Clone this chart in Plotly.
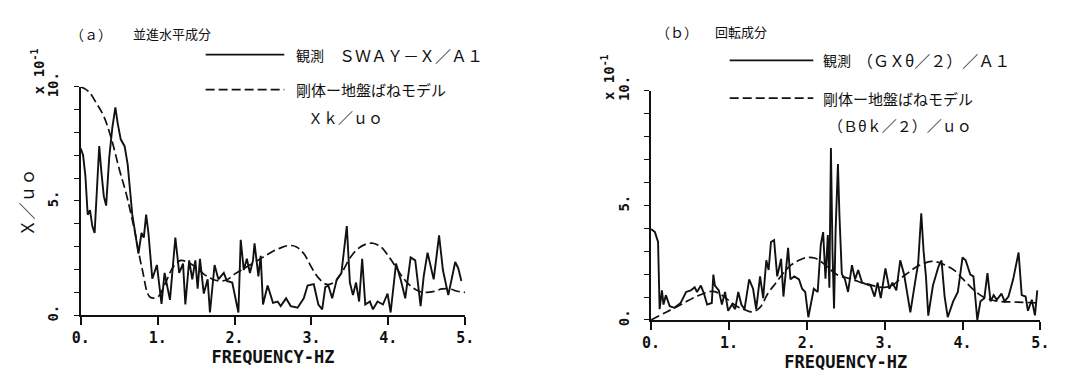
import plotly.graph_objects as go

W, H = 1073, 376

# (a) translational horizontal component: observed spectrum
freq_obs_a = [0.00, 0.03, 0.06, 0.09, 0.12, 0.15, 0.18, 0.21, 0.24, 0.27, 0.30, 0.33, 0.37,
              0.41, 0.45, 0.48, 0.52, 0.57, 0.61, 0.67, 0.71, 0.75, 0.79, 0.82, 0.85, 0.88,
              0.93, 0.99, 1.05, 1.09, 1.16, 1.23, 1.28, 1.33, 1.36, 1.41, 1.45, 1.49, 1.52,
              1.55, 1.60, 1.65, 1.68, 1.74, 1.79, 1.86, 1.90, 1.97, 2.05, 2.08, 2.12, 2.16,
              2.20, 2.24, 2.26, 2.31, 2.34, 2.37, 2.43, 2.50, 2.56, 2.60, 2.67, 2.73, 2.82,
              2.90, 2.95, 3.03, 3.09, 3.14, 3.18, 3.22, 3.27, 3.33, 3.39, 3.46, 3.50, 3.54,
              3.58, 3.62, 3.66, 3.70, 3.76, 3.80, 3.86, 3.93, 3.99, 4.03, 4.10, 4.16, 4.22,
              4.29, 4.35, 4.42, 4.46, 4.51, 4.59, 4.66, 4.71, 4.78, 4.87, 4.91, 4.95]
amp_obs_a = [7.3, 7.0, 6.1, 4.4, 4.6, 3.9, 3.6, 5.3, 7.4, 6.2, 5.2, 4.8, 6.9,
             8.2, 9.1, 8.4, 7.7, 7.4, 6.6, 4.4, 3.6, 2.7, 3.6, 3.4, 4.4, 3.6,
             1.6, 2.2, 0.5, 1.85, 0.67, 3.4, 1.85, 2.26, 0.47, 2.4, 1.57, 2.4, 1.16,
             2.47, 0.95, 1.57, 0.12, 2.2, 1.57, 1.85, 1.5, 1.43, 0.12, 3.3, 1.98, 2.47,
             1.85, 2.4, 3.15, 1.7, 2.6, 0.47, 1.3, 0.54, 0.6, 0.4, 0.74, 0.4, 0.33,
             0.74, 1.3, 1.36, 0.47, 0.26, 1.23, 1.3, 0.74, 1.57, 1.85, 3.9, 1.43, 0.88,
             1.43, 0.6, 2.47, 0.47, 0.6, 0.26, 0.6, 0.47, 0.95, 0.12, 2.26, 1.57, 0.74,
             2.53, 2.4, 0.4, 1.7, 2.74, 1.57, 3.5, 1.98, 0.88, 2.33, 2.05, 1.5]

# (a) rigid body - ground spring model
freq_mod_a = [0.0, 0.1, 0.2, 0.3, 0.4, 0.5, 0.6, 0.7, 0.8, 0.9, 1.0, 1.1, 1.2, 1.3, 1.4,
              1.5, 1.6, 1.7, 1.8, 1.9, 2.0, 2.1, 2.2, 2.3, 2.4, 2.5, 2.6, 2.7, 2.8, 2.9,
              3.0, 3.1, 3.2, 3.3, 3.4, 3.5, 3.6, 3.7, 3.8, 3.9, 4.0, 4.1, 4.2, 4.3, 4.4,
              4.5, 4.6, 4.7, 4.8, 4.9, 5.0]
amp_mod_a = [10.0, 9.8, 9.3, 8.7, 7.7, 6.4, 5.2, 3.7, 2.0, 0.8, 0.8, 1.4, 2.1, 2.4, 2.3,
             2.1, 1.8, 1.6, 1.5, 1.55, 1.8, 2.0, 2.2, 2.4, 2.6, 2.8, 2.95, 3.05, 3.0, 2.7,
             2.1, 1.6, 1.35, 1.45, 1.9, 2.5, 2.9, 3.1, 3.15, 3.0, 2.6, 2.1, 1.6, 1.25, 1.05,
             1.0, 1.05, 1.15, 1.15, 1.05, 1.0]

# (b) rotational component: observed spectrum
freq_obs_b = [0.00, 0.05, 0.09, 0.11, 0.14, 0.16, 0.19, 0.24, 0.30, 0.38, 0.45, 0.51, 0.56,
              0.59, 0.64, 0.68, 0.72, 0.78, 0.80, 0.82, 0.87, 0.91, 0.95, 0.99, 1.04, 1.08,
              1.12, 1.16, 1.20, 1.26, 1.31, 1.35, 1.40, 1.44, 1.48, 1.51, 1.54, 1.58, 1.62,
              1.67, 1.70, 1.73, 1.76, 1.79, 1.84, 1.90, 1.94, 1.98, 2.02, 2.09, 2.14, 2.18,
              2.21, 2.24, 2.27, 2.29, 2.31, 2.33, 2.35, 2.37, 2.40, 2.42, 2.45, 2.49, 2.53,
              2.58, 2.62, 2.66, 2.71, 2.76, 2.82, 2.87, 2.91, 2.95, 3.01, 3.06, 3.10, 3.15,
              3.20, 3.25, 3.33, 3.39, 3.43, 3.47, 3.50, 3.53, 3.56, 3.62, 3.69, 3.73, 3.77,
              3.81, 3.88, 3.94, 4.00, 4.04, 4.10, 4.14, 4.19, 4.23, 4.28, 4.32, 4.36, 4.40,
              4.44, 4.50, 4.54, 4.59, 4.65, 4.72, 4.76, 4.81, 4.84, 4.89, 4.93, 4.96]
amp_obs_b = [3.96, 3.83, 3.4, 0.47, 1.29, 0.67, 1.08, 0.6, 0.53, 0.74, 1.22, 1.29, 1.43,
             1.22, 1.5, 1.15, 0.67, 0.74, 1.98, 1.5, 1.29, 0.67, 1.22, 0.4, 0.67, 0.47,
             1.22, 0.67, 0.47, 1.77, 1.36, 0.47, 1.9, 0.95, 2.6, 2.18, 3.4, 3.48, 1.9,
             2.66, 1.02, 2.18, 3.14, 1.77, 1.9, 1.77, 1.36, 1.22, 0.12, 1.36, 1.22, 3.28,
             3.83, 1.8, 3.7, 1.4, 7.5, 3.0, 0.5, 3.9, 6.8, 4.5, 2.0, 1.77, 1.22,
             2.39, 1.77, 2.18, 1.63, 1.56, 1.5, 1.02, 1.63, 0.95, 2.25, 1.36, 1.63, 1.29,
             2.6, 1.98, 0.33, 1.63, 2.46, 4.65, 3.0, 1.9, 0.19, 1.5, 2.32, 2.6, 1.02,
             0.12, 0.81, 1.22, 2.73, 2.6, 1.98, 1.9, 0.0, 0.81, 0.95, 2.04, 0.81, 1.08,
             0.88, 1.15, 0.81, 1.02, 1.77, 2.94, 1.08, 1.02, 0.4, 0.88, 0.2, 1.29]

# (b) rigid body - ground spring model
freq_mod_b = [0.0, 0.2, 0.4, 0.6, 0.8, 0.9, 1.0, 1.1, 1.2, 1.3, 1.4, 1.5, 1.6, 1.7, 1.8,
              1.9, 2.0, 2.1, 2.2, 2.3, 2.4, 2.5, 2.6, 2.7, 2.8, 2.9, 3.0, 3.1, 3.2, 3.3,
              3.4, 3.5, 3.6, 3.7, 3.8, 3.9, 4.0, 4.1, 4.2, 4.3, 4.4, 4.5, 4.7, 4.9, 5.0]
amp_mod_b = [0.0, 0.35, 0.7, 1.05, 1.25, 1.1, 0.85, 0.6, 0.45, 0.35, 0.55, 1.15, 1.6, 2.05, 2.4,
             2.6, 2.72, 2.7, 2.5, 2.2, 1.95, 1.85, 1.75, 1.63, 1.55, 1.45, 1.42, 1.5, 1.8, 2.05,
             2.3, 2.46, 2.55, 2.5, 2.35, 2.15, 1.8, 1.45, 1.15, 0.95, 0.85, 0.8, 0.78, 0.75, 0.73]

x_tickvals = [0, 1, 2, 3, 4, 5]
x_ticktext = ["0.", "1.", "2.", "3.", "4.", "5."]
y_tickvals = [0, 5, 10]
y_ticktext = ["0.", "5.", "10."]
y_minor_step = 1

INK = "#111111"
MONO = "DejaVu Sans Mono"
CJK = "Noto Sans CJK JP"


def px(x):
    return x / W


def py(y):
    return 1 - y / H


fig = go.Figure()

for xa, ya, fo, ao, fm, am in [("x", "y", freq_obs_a, amp_obs_a, freq_mod_a, amp_mod_a),
                               ("x2", "y2", freq_obs_b, amp_obs_b, freq_mod_b, amp_mod_b)]:
    fig.add_trace(go.Scatter(x=fm, y=am, xaxis=xa, yaxis=ya, mode="lines",
                             line=dict(color=INK, width=1.7, dash="9px,4px", shape="spline"),
                             showlegend=False, hoverinfo="skip"))
    fig.add_trace(go.Scatter(x=fo, y=ao, xaxis=xa, yaxis=ya, mode="lines",
                             line=dict(color=INK, width=1.9),
                             showlegend=False, hoverinfo="skip"))

xaxis_common = dict(range=[0, 5], tickvals=x_tickvals, ticktext=x_ticktext, ticks="outside",
                    ticklen=8, tickwidth=1.6, tickcolor=INK, showline=True, linecolor=INK,
                    linewidth=1.7, showgrid=False, zeroline=False, fixedrange=True,
                    tickfont=dict(family=MONO, size=15, color=INK, weight="bold"),
                    title=dict(text="FREQUENCY-HZ", standoff=4,
                               font=dict(family=MONO, size=17, color=INK, weight="bold")))
yaxis_common = dict(range=[0, 10], tickvals=y_tickvals, ticktext=y_ticktext, ticks="outside",
                    ticklen=5, tickwidth=1.4, tickcolor=INK, showline=True, linecolor=INK,
                    linewidth=1.7, showgrid=False, zeroline=False, fixedrange=True,
                    tickangle=-90, ticklabelstandoff=10,
                    minor=dict(dtick=y_minor_step, ticks="outside", ticklen=5, tickwidth=1.4,
                               tickcolor=INK, showgrid=False),
                    tickfont=dict(family=MONO, size=14, color=INK, weight="bold"))

fig.update_layout(
    width=W, height=H, margin=dict(l=0, r=0, t=0, b=0),
    paper_bgcolor="white", plot_bgcolor="white",
    xaxis=dict(domain=[px(73), px(464)], anchor="y", **xaxis_common),
    yaxis=dict(domain=[1 - 318 / H, 1 - 76 / H], anchor="x", **yaxis_common),
    xaxis2=dict(domain=[px(653), px(1049)], anchor="y2", **xaxis_common),
    yaxis2=dict(domain=[1 - 323 / H, 1 - 80 / H], anchor="x2", **yaxis_common),
)

annotations = []
shapes = []


def text(x, y, s, size, family=CJK, anchor="left", angle=0, weight="normal"):
    annotations.append(dict(x=px(x), y=py(y), xref="paper", yref="paper", text=s,
                            showarrow=False, xanchor=anchor, yanchor="middle",
                            textangle=angle,
                            font=dict(family=family, size=size, color=INK, weight=weight)))


def legend_line(x0, x1, y, dash):
    shapes.append(dict(type="line", xref="paper", yref="paper",
                       x0=px(x0), x1=px(x1), y0=py(y), y1=py(y),
                       line=dict(color=INK, width=1.7, dash=dash)))


# panel (a) headings and legend
text(60, 20, "（ａ）", 14)
text(124, 20, "並進水平成分", 13)
legend_line(200, 280, 42, "solid")
text(290, 42, "観測", 14)
text(334, 42, "ＳＷＡＹ－Ｘ／Ａ１", 16)
legend_line(200, 280, 79, "9px,4px")
text(290, 79, "剛体ー地盤ばねモデル", 15)
text(302, 109, "Ｘｋ／ｕｏ", 15)
text(29, 60, "x 10<sup>-1</sup>", 14, family=MONO, anchor="center", angle=-90, weight="bold")
text(18, 199, "Ｘ／ｕｏ", 17, anchor="center", angle=-90)

# panel (b) headings and legend
text(656, 18, "（ｂ）", 14)
text(716, 18, "回転成分", 13)
legend_line(733, 818, 48, "solid")
text(826, 48, "観測", 14)
text(860, 48, "（ＧＸθ／２）／Ａ１", 16)
legend_line(733, 818, 88, "9px,4px")
text(826, 88, "剛体ー地盤ばねモデル", 15)
text(831, 117, "（Ｂθｋ／２）／ｕｏ", 15)
text(610, 66, "x 10<sup>-1</sup>", 14, family=MONO, anchor="center", angle=-90, weight="bold")

fig.update_layout(annotations=annotations, shapes=shapes)

fig.write_html("out.html")
